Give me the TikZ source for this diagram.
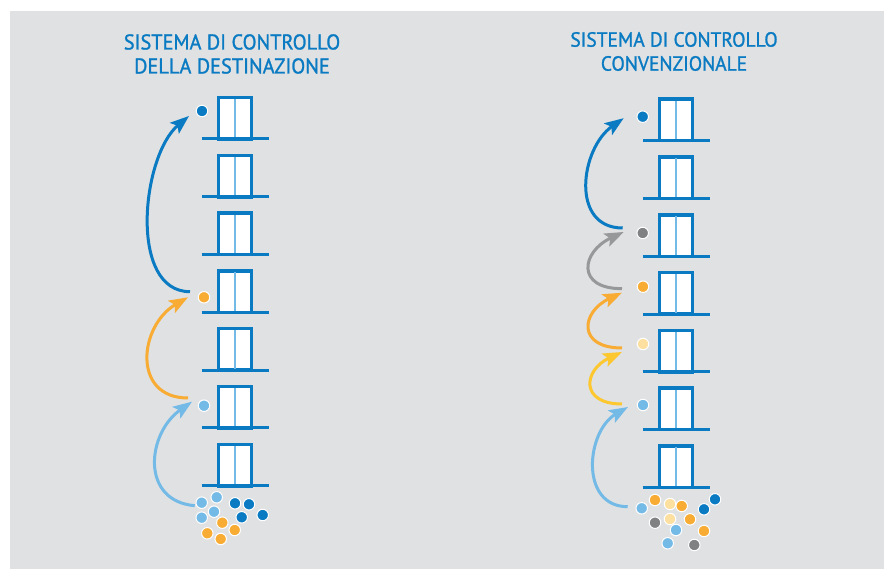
\documentclass[tikz,border=0pt]{standalone}
\usepackage{fontspec}
\setmainfont[FakeStretch=0.95,FakeBold=1.2]{PT Sans}
\usetikzlibrary{arrows.meta}

\definecolor{dblue}{HTML}{0A7BC2}
\definecolor{lblue}{HTML}{74BAE6}
\definecolor{orng}{HTML}{F8AC34}
\definecolor{yllw}{HTML}{FDC82F}
\definecolor{pale}{HTML}{FDE0A0}
\definecolor{gry}{HTML}{808183}
\definecolor{lgry}{HTML}{979899}
\definecolor{bg}{HTML}{E0E1E3}

\begin{document}
\begin{tikzpicture}[x=1pt,y=1pt,
		dot/.style={circle,fill=#1,draw=white,line width=1pt,minimum size=11.5pt,inner sep=0pt},
		lift/.style={-{Stealth[length=19pt,width=14pt,inset=4pt]},line width=3pt},
		title/.style={text=dblue,align=center,font=\fontsize{#1}{24}\selectfont}]
	\useasboundingbox (0,0) rectangle (884,569);
	\fill[white] (0,0) rectangle (884,569);
	\fill[bg] (10,0) rectangle (884,558);

	% titles
	\node[title=21.4] (tleft) at (232,515) {SISTEMA DI CONTROLLO\\DELLA DESTINAZIONE};
	\node[title=20.5] (tright) at (674,517.5) {SISTEMA DI CONTROLLO\\CONVENZIONALE};

	% the two buildings
	\foreach \xc/\ytop in {235/430,676/428.3}{
		\foreach \k in {0,...,6}{
			\pgfmathsetmacro\fy{\ytop-57.8*\k}
			\filldraw[fill=white,draw=dblue,line width=3.5pt] (\xc-16.5,\fy) rectangle (\xc+16.5,\fy+41.5);
			\draw[lblue,line width=1.3pt] (\xc,\fy) -- (\xc,\fy+40);
			\draw[dblue,line width=3pt] (\xc-33.5,\fy) -- (\xc+33.5,\fy);
		}
	}

	% destination control
	\node[dot=dblue] (lt) at (202,458) {};
	\node[dot=orng] (lo) at (204,271.7) {};
	\node[dot=lblue] (ll) at (204,163.3) {};
	\foreach \x/\y/\c [count=\i] in {201.7/66.3/lblue,216.7/71.7/lblue,214/57.3/lblue,201.7/51.3/lblue,
			235/65.7/dblue,249/64.7/dblue,241.7/51.7/dblue,262.7/54/dblue,
			222.3/46.3/orng,207.3/35.7/orng,220.7/30/orng,234.7/39/orng}
		\node[dot=\c] (lc\i) at (\x,\y) {};

	\draw[lift,dblue] ([shift={(-14,5.6)}]lo.center) to[out=180,in=220,looseness=0.9] ([shift={(-13,-5)}]lt.center);
	\draw[lift,orng] ([shift={(-16,7.7)}]ll.center) to[out=180,in=210,looseness=1.44] ([shift={(-16,0)}]lo.center);
	\draw[lift,lblue] ([shift={(-7,-3)}]lc1.center) to[out=175,in=215,looseness=1.35] ([shift={(-12,4)}]ll.center);

	% conventional control
	\node[dot=dblue] (rt) at (642.7,452.3) {};
	\node[dot=gry] (rg) at (642.7,336) {};
	\node[dot=orng] (ro) at (643,282.3) {};
	\node[dot=pale] (rp) at (643,225) {};
	\node[dot=lblue] (rl) at (643,164) {};
	\foreach \x/\y/\c [count=\i] in {641.7/60.7/lblue,676/39/lblue,667.7/25.7/lblue,
			655/69/orng,681.7/63/orng,690/49.7/orng,704/38/orng,
			670/65/pale,670/50/pale,655/46.3/gry,694.3/24/gry,
			704/59.7/dblue,715/69.7/dblue}
		\node[dot=\c] (rc\i) at (\x,\y) {};

	\draw[lift,dblue] ([shift={(-20,5)}]rg.center) to[out=180,in=215,looseness=1.23] ([shift={(-19,-1.5)}]rt.center);
	\draw[lift,lgry] ([shift={(-21,-2)}]ro.center) to[out=180,in=205,looseness=2.1] ([shift={(-19,1)}]rg.center);
	\draw[lift,orng] ([shift={(-21,-4)}]rp.center) to[out=180,in=205,looseness=2.1] ([shift={(-21,-6)}]ro.center);
	\draw[lift,yllw] ([shift={(-21,1)}]rl.center) to[out=180,in=205,looseness=2.1] ([shift={(-21,-8)}]rp.center);
	\draw[lift,lblue] ([shift={(-14,1.6)}]rc1.center) to[out=180,in=210,looseness=1.24] ([shift={(-15,-2)}]rl.center);
\end{tikzpicture}
\end{document}
